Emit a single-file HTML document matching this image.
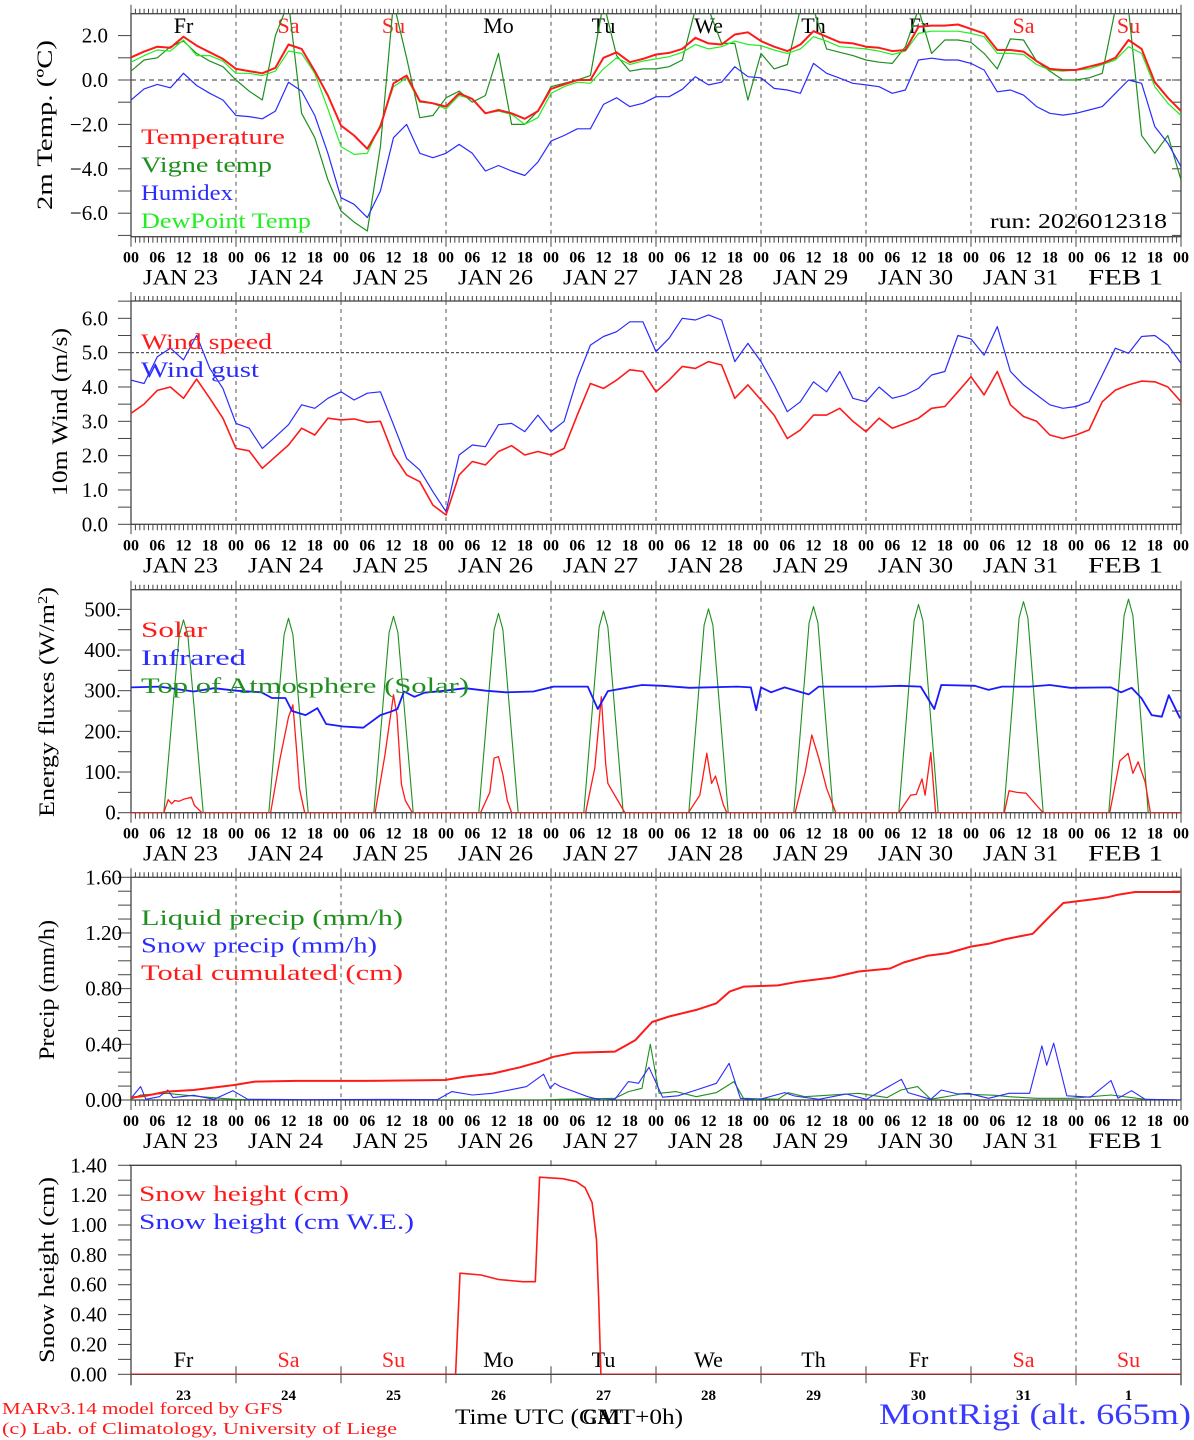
<!DOCTYPE html>
<html><head><meta charset="utf-8"><title>MAR forecast MontRigi</title>
<style>
html,body{margin:0;padding:0;background:#fff;}
svg{display:block;font-family:"Liberation Serif",serif;}
</style></head>
<body>
<svg id="chart" width="1194" height="1440" viewBox="0 0 1194 1440" xmlns="http://www.w3.org/2000/svg">
<defs>
<clipPath id="c0"><rect x="131" y="13.7" width="1050" height="223"/></clipPath>
<clipPath id="c1"><rect x="131" y="301" width="1050" height="223.3"/></clipPath>
<clipPath id="c2"><rect x="131" y="589.7" width="1050" height="223"/></clipPath>
<clipPath id="c3"><rect x="131" y="877.3" width="1050" height="222.7"/></clipPath>
<clipPath id="c4"><rect x="131" y="1165.3" width="1050" height="209"/></clipPath>
</defs>
<rect x="0" y="0" width="1194" height="1440" fill="#fff"/>
</svg>
<script>
// ---------- data (3-hourly from 00 JAN 23, 81 values) ----------
const temperature = [1.02,1.28,1.5,1.45,1.95,1.55,1.25,0.95, 0.5,0.4,0.3,0.55,1.6,1.4,0.4,-0.7, -2.05,-2.5,-3.1,-2.1,-0.15,0.2,-0.95,-1.05, -1.2,-0.6,-0.85,-1.5,-1.35,-1.5,-1.75,-1.4, -0.4,-0.2,0.0,0.0,1.0,1.25,0.8,0.95, 1.15,1.22,1.4,1.9,1.65,1.6,2.05,2.15, 1.75,1.5,1.3,1.6,2.2,1.95,1.7,1.65, 1.5,1.45,1.3,1.35,2.4,2.45,2.45,2.5, 2.3,2.1,1.35,1.35,1.28,0.85,0.5,0.45, 0.45,0.6,0.75,1.0,1.8,1.4,-0.1,-0.8, -1.4];
const vigneTemp = [0.4,0.9,1.0,1.5,1.75,1.2,0.85,0.6, 0.0,-0.5,-0.9,2.0,3.5,-1.5,-2.6,-4.5, -5.9,-6.4,-6.8,-3.0,3.5,1.0,-1.7,-1.6, -0.8,-0.5,-1.0,-0.7,1.2,-2.0,-2.0,-1.4, -0.3,-0.15,0.0,0.2,3.5,1.1,0.4,0.5, 0.5,0.6,0.9,3.2,3.2,1.65,1.65,-0.9, 1.2,0.5,0.7,3.2,3.2,1.4,1.25,1.1, 0.9,0.8,0.75,1.5,3.2,1.2,1.8,1.8, 1.7,1.2,0.5,1.85,1.8,0.85,0.4,0.0, 0.0,0.1,0.3,3.2,3.2,-2.5,-3.3,-2.5, -4.5];
const humidex = [-0.9,-0.4,-0.2,-0.35,0.3,-0.25,-0.6,-0.9, -1.6,-1.65,-1.75,-1.4,-0.1,-0.5,-1.6,-3.3, -5.3,-5.6,-6.2,-5.0,-2.6,-2.0,-3.3,-3.5, -3.3,-2.9,-3.3,-4.1,-3.85,-4.1,-4.3,-3.7, -2.75,-2.5,-2.2,-2.2,-1.1,-0.8,-1.2,-1.05, -0.75,-0.75,-0.42,0.15,-0.22,-0.1,0.6,0.15, 0.1,-0.38,-0.45,-0.6,0.75,0.3,0.08,-0.15, -0.22,-0.3,-0.6,-0.45,0.9,0.98,0.9,0.9, 0.75,0.45,-0.53,-0.45,-0.68,-1.2,-1.5,-1.58, -1.5,-1.35,-1.2,-0.6,0.0,-0.15,-2.1,-2.85, -3.9];
const dewPoint = [0.8,1.1,1.35,1.3,1.8,1.1,1.1,0.85, 0.3,0.3,0.2,0.4,1.3,1.2,0.3,-1.3, -3.0,-3.35,-3.3,-2.0,-0.3,0.1,-1.0,-1.05, -1.3,-0.7,-0.85,-1.5,-1.4,-1.55,-2.0,-1.7, -0.6,-0.3,-0.1,-0.15,0.5,1.0,0.7,0.85, 0.95,1.05,1.25,1.6,1.4,1.5,1.75,1.6, 1.55,1.35,1.2,1.4,1.95,1.75,1.5,1.45, 1.4,1.3,1.15,1.3,2.1,2.2,2.2,2.2, 2.1,1.95,1.2,1.2,1.15,0.7,0.45,0.4, 0.45,0.5,0.7,0.9,1.5,1.2,-0.3,-1.05, -1.6];
const windSpeed = [3.23,3.5,3.9,4.0,3.67,4.23,3.67,3.09, 2.21,2.14,1.63,1.97,2.31,2.8,2.6,3.09, 3.04,3.07,2.97,3.0,2.02,1.44,1.24,0.56, 0.27,1.44,1.83,1.73,2.12,2.29,2.02,2.12, 2.02,2.21,3.18,4.1,3.96,4.2,4.5,4.45, 3.86,4.2,4.6,4.54,4.74,4.64,3.67,4.06, 3.62,3.18,2.5,2.75,3.18,3.18,3.38,3.0, 2.7,3.09,2.8,2.94,3.09,3.38,3.43,3.86, 4.3,3.77,4.45,3.48,3.14,3.0,2.6,2.5, 2.6,2.75,3.57,3.91,4.06,4.17,4.15,4.0, 3.57];
const windGust = [4.2,4.1,4.88,5.13,4.79,5.5,4.54,3.96, 2.94,2.8,2.21,2.55,2.9,3.48,3.38,3.67, 3.86,3.62,3.82,3.86,2.9,1.92,1.58,0.95, 0.37,2.02,2.31,2.26,2.9,2.94,2.7,3.18, 2.7,3.0,4.25,5.22,5.47,5.61,5.9,5.9, 5.03,5.42,6.0,5.95,6.1,5.95,4.74,5.27, 4.74,4.06,3.28,3.57,4.15,3.86,4.45,3.67, 3.57,4.0,3.67,3.77,3.96,4.35,4.45,5.5, 5.4,4.93,5.76,4.45,4.06,3.77,3.48,3.38, 3.43,3.57,4.35,5.13,4.98,5.47,5.5,5.22, 4.69];
// ---------- energy (hours since 00 JAN 23) ----------
const toaHours = [0, 7.5,9.5,11,12,13,14.5,16.5, 31.5,33.5,35,36,37,38.5,40.5, 55.5,57.5,59,60,61,62.5,64.5, 79.5,81.5,83,84,85,86.5,88.5, 103.5,105.5,107,108,109,110.5,112.5, 127.5,129.5,131,132,133,134.5,136.5, 151.5,153.5,155,156,157,158.5,160.5, 175.5,177.5,179,180,181,182.5,184.5, 199.5,201.5,203,204,205,206.5,208.5, 223.5,225.5,227,228,229,230.5,232.5, 240];
const toaValues = [0, 0,250,435,474,435,250,0, 0,252,438,478,438,252,0, 0,255,443,483,443,255,0, 0,258,450,490,450,258,0, 0,262,456,496,456,262,0, 0,265,461,501,461,265,0, 0,268,467,507,467,268,0, 0,271,472,512,472,271,0, 0,275,479,519,479,275,0, 0,278,485,525,485,278,0, 0];
const solarHours = [0, 7.5,8.5,9.3,10,11,12,13.8,14.5,16.2, 31.9,34,36,37,37.8,38.5,39.7, 55.8,58,60,60.8,61.8,62.7,64.3, 79.9,82,83,84,85,86,87, 103.9,106,107.5,108.5,109,111,112.9, 127.4,130,131.6,132.7,133.6,135.4,136.2, 151.8,154.1,155.6,157.2,159,161.1, 175.5,178.2,179.5,180.8,181.5,182.8,183.9, 199.6,200.7,202.5,204.6,206.9,208.5, 223.7,226,227.9,229,230.2,231.8,233, 240];
const solarValues = [0, 0,32,22,30,28,33,38,18,0, 0,130,235,265,160,60,0, 0,140,290,240,70,30,0, 0,50,134,138,93,30,0, 0,110,285,120,72,35,0, 0,43,146,72,90,19,0, 0,100,191,134,60,0, 0,43,45,83,43,148,0, 0,54,50,48,19,0, 0,127,146,97,125,76,0, 0];
const irHours = [0,6.5,14.3,19,24,29.8,32.2,35.3,36.8,39.9,42.6,44.6,48.5,53.1,57,59.3,60.9,62.4,64.8,67.1,71.8,76.4,81.1,85.7,92,96.6,104.4,106.7,109,116.8,121.5,127.7,138.6,141.7,142.9,144,146.3,149.4,154.9,157.2,169.6,175.8,180.5,183.6,185.2,192.9,196,199.1,205.4,210,214.7,224,226.3,228.7,231,233.3,235.6,237.2,239.8];
const irValues = [308,310,298,306,300,296,282,282,250,240,257,218,212,209,240,248,255,298,285,295,300,306,300,296,298,310,310,255,299,314,312,307,310,308,252,308,296,308,291,310,310,312,310,255,314,312,302,310,310,314,307,308,296,307,281,240,236,289,232];
// ---------- precipitation ----------
const cumHours = [0,3.4,8.1,14.3,19,23.6,28.3,37.6,53,71.8,76.4,82.6,88.9,93.5,96.6,101.3,110.6,115.3,119.1,123,129.2,133.8,136.9,140.1,147.9,152.5,160.3,166.3,173.5,176.6,182,186.7,192.1,196,199.9,206.1,210,213.1,219.3,223.2,225.6,229.5,239.8];
const cumValues = [0.017,0.03,0.06,0.072,0.09,0.108,0.132,0.137,0.137,0.144,0.168,0.19,0.235,0.276,0.31,0.34,0.348,0.43,0.56,0.6,0.647,0.695,0.78,0.815,0.823,0.85,0.88,0.923,0.945,0.988,1.036,1.055,1.103,1.122,1.156,1.194,1.32,1.415,1.44,1.456,1.475,1.494,1.494];
const snowPrHours = [0,2.2,3.4,6.5,8.4,9.6,14.3,19,23.3,26.7,40,60,70,73.3,78,82.6,87.3,90.4,94.3,95.8,96.9,98.2,101.3,104.4,107.5,110.6,113.7,116,118.4,121.5,125,129.2,133.8,136.7,139.3,143.2,149.4,151.7,157.2,163.5,168.1,176.1,177.6,182.8,185.2,189,191.4,196,200.7,205.4,208.2,209.3,210.9,213.9,219.3,224,225.6,228.7,231.8,240];
const snowPrValues = [0.012,0.096,0.005,0.024,0.072,0.017,0.034,0.005,0.067,0.005,0.002,0.004,0.002,0.06,0.036,0.048,0.077,0.096,0.185,0.084,0.12,0.096,0.06,0.024,0.0,0.005,0.132,0.12,0.235,0.02,0.03,0.072,0.12,0.264,0.012,0.0,0.053,0.029,0.005,0.043,0.005,0.149,0.053,0.005,0.072,0.043,0.048,0.012,0.048,0.048,0.389,0.25,0.408,0.03,0.02,0.14,0.012,0.067,0.005,0.0];
const liquidHours = [0,2.2,8.1,14.3,20.5,23.6,30,94,98.2,110.6,113.7,116.8,118.7,120.7,124.6,129.2,133.8,137.8,140,147.9,150.2,154,166.3,172.8,176,179.8,182.8,189.8,197.6,200.7,206.9,215,224,231.8,240];
const liquidValues = [0.005,0.036,0.048,0.029,0.012,0.005,0.0,0.0,0.005,0.012,0.06,0.084,0.4,0.048,0.06,0.024,0.053,0.132,0.012,0.005,0.053,0.024,0.048,0.017,0.072,0.096,0.005,0.043,0.034,0.024,0.012,0.012,0.036,0.005,0.0];
const snowHHours = [0,74.2,75.2,80,84,89.5,92.4,93.4,98.7,101.8,103.8,105.4,106.4,106.9,107.4,240];
const snowHValues = [0,0,0.677,0.665,0.635,0.62,0.62,1.32,1.31,1.29,1.25,1.15,0.9,0.5,0,0];
// ---------- labels ----------
const dayNames = ['Fr','Sa','Su','Mo','Tu','We','Th','Fr','Sa','Su'];
const dayRed = [false,true,true,false,false,false,false,false,true,true];
const dateLabels = ['JAN 23','JAN 24','JAN 25','JAN 26','JAN 27','JAN 28','JAN 29','JAN 30','JAN 31','FEB  1'];
const dayNumbers = ['23','24','25','26','27','28','29','30','31','1'];
const hourLabels = ['00','06','12','18'];

const NS='http://www.w3.org/2000/svg';
const svg=document.getElementById('chart');
const X0=131, X1=1181, PXH=(X1-X0)/240;
function X(h){return X0+h*PXH;}
function mk(tag,attrs,parent){const e=document.createElementNS(NS,tag);for(const k in attrs)e.setAttribute(k,attrs[k]);(parent||svg).appendChild(e);return e;}
function nm(e,n,i){


return e;}
function txt(s,x,y,attrs,name){const e=mk('text',Object.assign({x:x,y:y,'font-size':19,fill:'#000'},attrs||{}));e.textContent=s;nm(e,name);return e;}

const panels=[
 {key:'temp',top:13.7,bot:236.7,y:v=>80-22.2*v,tmin:-7,tmax:2,tstep:1,lab:[2,0,-2,-4,-6],fmt:v=>v.toFixed(1).replace('-','\u2212'),lx:108,clip:'c0'},
 {key:'wind',top:301,bot:524.3,y:v=>524.3-34.33*v,tmin:0,tmax:6.5,tstep:0.5,lab:[0,1,2,3,4,5,6],fmt:v=>v.toFixed(1),lx:108,clip:'c1'},
 {key:'energy',top:589.7,bot:812.7,y:v=>812.7-0.4067*v,tmin:0,tmax:500,tstep:50,lab:[0,100,200,300,400,500],fmt:v=>v+'.',lx:121,clip:'c2'},
 {key:'precip',top:877.3,bot:1100,y:v=>1100-139.2*v,tmin:0,tmax:1.6,tstep:0.1,lab:[0,0.4,0.8,1.2,1.6],fmt:v=>v.toFixed(2),lx:122,clip:'c3'},
 {key:'snow',top:1165.3,bot:1374.3,y:v=>1374.3-149.3*v,tmin:0,tmax:1.4,tstep:0.1,lab:[0,0.2,0.4,0.6,0.8,1.0,1.2,1.4],fmt:v=>v.toFixed(2),lx:107,clip:'c4'}
];

function drawAxes(p,idx){
 const g=nm(mk('g',{}),p.key+'-axes');
 const last=(idx===4);
 const n=Math.round((p.tmax-p.tmin)/p.tstep);
 for(let i=0;i<=n;i++){const v=p.tmin+i*p.tstep;const yy=p.y(v);
  if(yy<p.top-0.5||yy>p.bot+0.5)continue;
  nm(mk('line',{x1:X0-13,y1:yy,x2:X0,y2:yy,stroke:'#444','stroke-width':1},g),p.key+'-ytick');
  nm(mk('line',{x1:X1-9,y1:yy,x2:X1,y2:yy,stroke:'#444','stroke-width':1},g),p.key+'-ytick-right');}
 p.lab.forEach(v=>{txt(p.fmt(v),p.lx,p.y(v)+7,{'text-anchor':'end','font-size':21},p.key+'-ytick-label');});
 if(!last){
  let d='';
  for(let h=0;h<=240;h++){const xx=X(h).toFixed(1);const L=(h%24===0)?9:5;
   d+='M'+xx+','+p.top+'v'+(-L)+'M'+xx+','+p.bot+'v'+(L+1);}
  nm(mk('path',{d:d,stroke:'#444','stroke-width':1,fill:'none'},g),p.key+'-xticks');
  nm(mk('rect',{x:X0,y:p.top,width:X1-X0,height:p.bot-p.top,fill:'none',stroke:'#444','stroke-width':1.3},g),p.key+'-frame');
  for(let dd=1;dd<10;dd++){nm(mk('line',{x1:X(dd*24),y1:p.top,x2:X(dd*24),y2:p.bot,stroke:'#555','stroke-dasharray':'4,4','stroke-width':1},g),p.key+'-day-gridline');}
  for(let dd=0;dd<=10;dd++){for(let k=0;k<4;k++){if(dd===10&&k>0)break;const h=dd*24+k*6;
   txt(hourLabels[k],X(h),p.bot+26,{'text-anchor':'middle','font-size':16,'font-weight':'bold'},p.key+'-hour-label');}}
  for(let dd=0;dd<10;dd++){const e=txt(dateLabels[dd],X(dd*24+12)-3,p.bot+48,{'text-anchor':'middle','font-size':22,textLength:75,lengthAdjust:'spacingAndGlyphs'},p.key+'-date-label');e.setAttribute('xml:space','preserve');}
 } else {
  nm(mk('line',{x1:X0-2,y1:p.top,x2:X1,y2:p.top,stroke:'#444','stroke-width':1.3},g),'snow-top-axis');
  nm(mk('line',{x1:X0,y1:p.top,x2:X0,y2:p.bot+11,stroke:'#444','stroke-width':1.3},g),'snow-left-axis');
  nm(mk('line',{x1:X1,y1:p.top,x2:X1,y2:p.bot+11,stroke:'#444','stroke-width':1.3},g),'snow-right-axis');
  nm(mk('line',{x1:X0,y1:p.bot,x2:X1,y2:p.bot,stroke:'#444','stroke-width':1.3},g),'snow-bottom-axis');
  for(let dd=1;dd<10;dd++){const xx=X(dd*24);
   nm(mk('line',{x1:xx,y1:p.top-5,x2:xx,y2:p.top+1,stroke:'#444'},g),'snow-top-tick');
   nm(mk('line',{x1:xx,y1:p.bot-8,x2:xx,y2:p.bot+9,stroke:'#444'},g),'snow-day-tick');}
  nm(mk('line',{x1:X(216),y1:p.top,x2:X(216),y2:p.bot+11,stroke:'#555','stroke-dasharray':'4,4'},g),'snow-week-gridline');
  for(let dd=0;dd<10;dd++){
   txt(dayNumbers[dd],X(dd*24+12),1400,{'text-anchor':'middle','font-size':15,'font-weight':'bold'},'snow-day-number');
   txt(dayNames[dd],X(dd*24+12),1367,{'text-anchor':'middle','font-size':22,fill:dayRed[dd]?'#ff2020':'#000'},'snow-day-name');}
 }
}
panels.forEach(drawAxes);

nm(mk('line',{x1:X0,y1:panels[0].y(0),x2:X1,y2:panels[0].y(0),stroke:'#333','stroke-dasharray':'5,4'}),'zero-line');
nm(mk('line',{x1:X0,y1:panels[1].y(5),x2:X1,y2:panels[1].y(5),stroke:'#555','stroke-dasharray':'3,2','stroke-width':1.3}),'wind-5-line');

for(let dd=0;dd<10;dd++){txt(dayNames[dd],X(dd*24+12),33,{'text-anchor':'middle','font-size':22,fill:dayRed[dd]?'#ff2020':'#000'},'top-day-name');}

function series(p,hours,vals,color,w,name){
 const d=hours.map((h,i)=>(i?'L':'M')+X(h).toFixed(1)+','+p.y(vals[i]).toFixed(1)).join('');
 const e=mk('path',{d:d,stroke:color,'stroke-width':w,fill:'none','clip-path':'url(#'+p.clip+')','stroke-linejoin':'round'});
 nm(e,name);return e;}
const h3=temperature.map((_,i)=>i*3);

series(panels[0],h3,vigneTemp,'#1f8f1f',1.2,'vigne-temp-line');
series(panels[0],h3,dewPoint,'#22ee22',1.2,'dewpoint-line');
series(panels[0],h3,humidex,'#2b2bff',1.2,'humidex-line');
series(panels[0],h3,temperature,'#ff1a1a',2,'temperature-line');

series(panels[1],h3,windGust,'#2b2bff',1.2,'wind-gust-line');
series(panels[1],h3,windSpeed,'#ff1a1a',1.6,'wind-speed-line');

series(panels[2],toaHours,toaValues,'#1f8f1f',1.1,'toa-solar-line');
series(panels[2],solarHours,solarValues,'#ff1a1a',1.3,'solar-line');
series(panels[2],irHours,irValues,'#1a1aff',1.8,'infrared-line');

series(panels[3],liquidHours,liquidValues,'#1f8f1f',1.1,'liquid-precip-line');
series(panels[3],snowPrHours,snowPrValues,'#2b2bff',1.1,'snow-precip-line');
series(panels[3],cumHours,cumValues,'#ff1a1a',2,'cumulated-precip-line');

series(panels[4],snowHHours,snowHValues,'#ff1a1a',1.6,'snow-height-line');

function legend(items,x,y0,step,prefix){items.forEach((it,i)=>{txt(it[0],x,y0+i*step,{fill:it[1],'font-size':22,textLength:(it[0].length*13.1).toFixed(0),lengthAdjust:'spacingAndGlyphs'},prefix+'-legend-entry');});}
legend([['Temperature','#ff1a1a'],['Vigne temp','#1f8f1f'],['Humidex','#2b2bff'],['DewPoint Temp','#22ee22']],141,144,28,'temp');
legend([['Wind speed','#ff1a1a'],['Wind gust','#2b2bff']],141,349,28,'wind');
legend([['Solar','#ff1a1a'],['Infrared','#2b2bff'],['Top of Atmosphere (Solar)','#1f8f1f']],141,637,28,'energy');
legend([['Liquid precip (mm/h)','#1f8f1f'],['Snow precip (mm/h)','#2b2bff'],['Total cumulated (cm)','#ff1a1a']],141,925,27.5,'precip');
legend([['Snow height (cm)','#ff1a1a'],['Snow height (cm W.E.)','#2b2bff']],139,1201,28,'snow');

txt('run: 2026012318',1167,228,{'text-anchor':'end','font-size':21,textLength:177,lengthAdjust:'spacingAndGlyphs'},'run-label');

function ytitle(s,x,y,len,name){const e=txt(s,0,0,{'text-anchor':'middle','font-size':22,transform:'translate('+x+','+y+') rotate(-90)',textLength:len,lengthAdjust:'spacingAndGlyphs'},name);return e;}
ytitle('2m Temp. (\u00baC)',52,125,170,'temp-y-title');
ytitle('10m Wind (m/s)',67,412,168,'wind-y-title');
const et=ytitle('Energy fluxes (W/m',54,702,200,'energy-y-title');
const sup=mk('tspan',{'font-size':14,dy:-7},et);sup.textContent='2';nm(sup,'energy-y-title-sup');
const cl=mk('tspan',{dy:7},et);cl.textContent=')';nm(cl,'energy-y-title-close');
et.setAttribute('textLength','230');
ytitle('Precip (mm/h)',54,990,140,'precip-y-title');
ytitle('Snow height (cm)',54,1270,186,'snow-y-title');

txt('MARv3.14 model forced by GFS',2,1414,{fill:'#ff1a1a','font-size':17,textLength:281,lengthAdjust:'spacingAndGlyphs'},'credit-model');
txt('(c) Lab. of Climatology, University of Liege',2,1434,{fill:'#ff1a1a','font-size':17,textLength:395,lengthAdjust:'spacingAndGlyphs'},'credit-lab');
txt('Time UTC (GMT+0h)',455,1424,{'font-size':22,textLength:228,lengthAdjust:'spacingAndGlyphs'},'x-axis-title');
txt('CAT',583,1424,{'font-size':22,textLength:40,lengthAdjust:'spacingAndGlyphs'},'x-axis-title-overlap');
txt('MontRigi (alt. 665m)',879,1424,{fill:'#3a3aff','font-size':30,textLength:312,lengthAdjust:'spacingAndGlyphs'},'station-name');
</script>
</body></html>
